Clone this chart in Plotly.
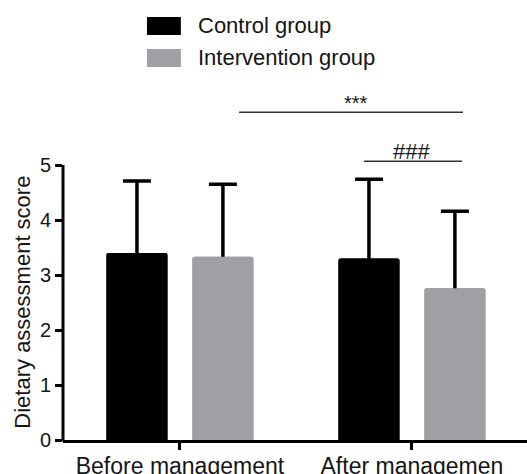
import plotly.graph_objects as go

categories = ["Before management", "After managemen"]
series_names = ["Control group", "Intervention group"]
control_mean = [3.40, 3.30]
control_sd = [1.31, 1.44]
intervention_mean = [3.33, 2.76]
intervention_sd = [1.32, 1.40]
y_ticks = [0, 1, 2, 3, 4, 5]

colors = ["#000000", "#a0a0a4"]
FONT = "Liberation Sans, Arial, sans-serif"
TXT = "#151515"

groups = [
    (series_names[0], control_mean, control_sd, colors[0], "g1"),
    (series_names[1], intervention_mean, intervention_sd, colors[1], "g2"),
]

fig = go.Figure()
# bars carrying the upward error bars (the lower cap is hidden inside the bar)
for name, mean, sd, col, og in groups:
    fig.add_trace(go.Bar(
        x=categories, y=mean, name=name, offsetgroup=og,
        marker=dict(color=col, line=dict(width=0), cornerradius=2),
        error_y=dict(type="data", array=sd, arrayminus=[0.06] * len(sd), symmetric=False,
                     color="#000000", thickness=3.5, width=14),
        showlegend=False, hoverinfo="skip",
    ))
# same bars drawn again on top, covering the lower cap of each error bar
for name, mean, sd, col, og in groups:
    fig.add_trace(go.Bar(
        x=categories, y=mean, name=name, offsetgroup=og,
        marker=dict(color=col, line=dict(width=0), cornerradius=2),
        showlegend=False,
    ))

fig.update_layout(
    width=527, height=474,
    margin=dict(l=63, r=0, t=0, b=34, autoexpand=False),
    paper_bgcolor="white", plot_bgcolor="white",
    barmode="group", bargap=0.259, bargroupgap=0.29,
    font=dict(family=FONT, color=TXT),
    xaxis=dict(
        range=[-0.504, 1.496], showline=True, linecolor="#000", linewidth=3,
        ticks="outside", ticklen=7, tickwidth=3, tickcolor="#000", automargin=False,
        ticklabelstandoff=-4,
        tickfont=dict(size=23, family=FONT, color=TXT), showgrid=False, zeroline=False,
    ),
    yaxis=dict(
        range=[0, 8], showline=False, tickvals=y_ticks, ticks="outside", ticklen=7,
        tickwidth=3, tickcolor="#000", tickfont=dict(size=20, family=FONT, color=TXT),
        showgrid=False, zeroline=False, automargin=False,
    ),
)

# y axis line from 0 to 5
fig.add_shape(type="line", xref="paper", yref="paper", x0=0, x1=0, y0=-0.003, y1=5 / 8,
              line=dict(color="#000", width=3))

# y title
fig.add_annotation(text="Dietary assessment score", xref="paper", yref="paper",
                   x=-0.088, y=2.5 / 8, textangle=-90, showarrow=False,
                   font=dict(size=22, family=FONT, color=TXT), xanchor="center", yanchor="middle")

# legend
for i, (name, col) in enumerate(zip(series_names, colors)):
    y0 = 0.9205 - i * 0.0728
    fig.add_shape(type="rect", xref="paper", yref="paper", x0=0.181, x1=0.254,
                  y0=y0, y1=y0 + 0.041, fillcolor=col, line=dict(width=0))
    fig.add_annotation(text=name, xref="paper", yref="paper", x=0.2866, y=y0 + 0.0205,
                       xanchor="left", yanchor="middle", showarrow=False,
                       font=dict(size=22, family=FONT, color=TXT))

# significance markers
fig.add_shape(type="line", xref="x", yref="y", x0=0.255, x1=1.220, y0=5.96, y1=5.96,
              line=dict(color="#333", width=1.5))
fig.add_annotation(text="***", xref="x", yref="y", x=0.76, y=6.13, showarrow=False,
                   yanchor="middle", font=dict(size=20, family=FONT, color=TXT))
fig.add_annotation(text="###", xref="x", yref="y", x=1.0, y=5.24, showarrow=False,
                   yanchor="middle", font=dict(size=22, family=FONT, color=TXT))
fig.add_shape(type="line", xref="x", yref="y", x0=0.793, x1=1.216, y0=5.07, y1=5.07,
              line=dict(color="#333", width=1.5))

fig.write_html("out.html", config={"displayModeBar": False},
               post_script="document.body.style.margin='0';")
